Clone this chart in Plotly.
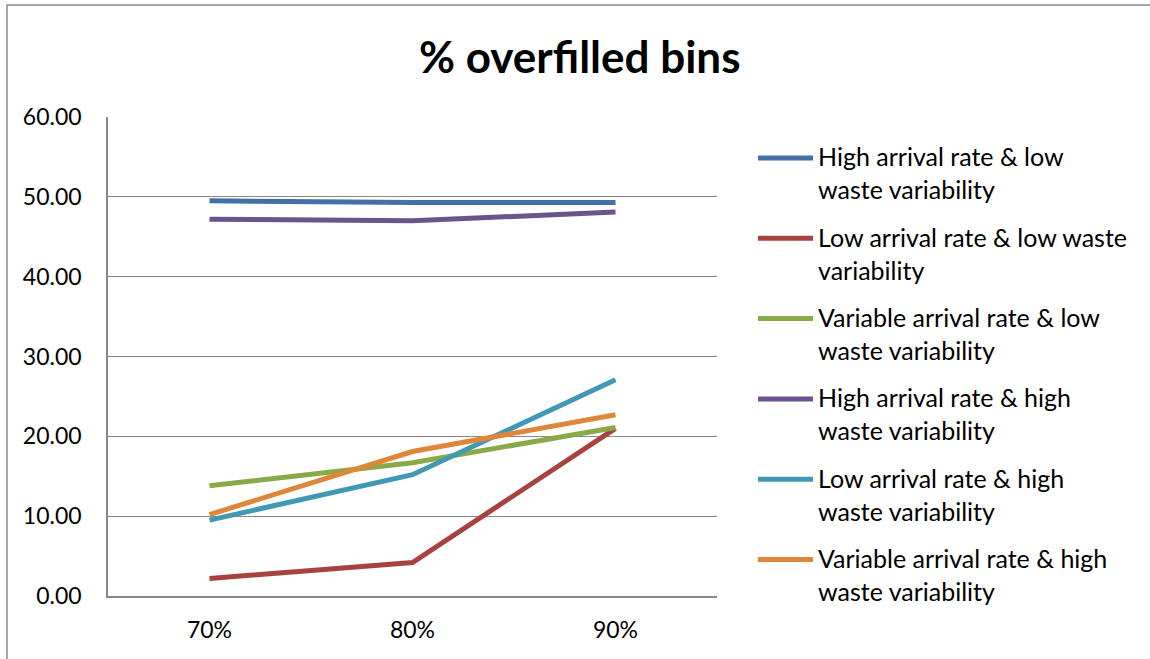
import plotly.graph_objects as go

# Fill-level thresholds on the x axis
thresholds = ["70%", "80%", "90%"]

# Percentage of overfilled bins per scenario
high_arrival_low_var = [49.5, 49.3, 49.3]
low_arrival_low_var = [2.2, 4.2, 21.0]
variable_arrival_low_var = [13.8, 16.7, 21.1]
high_arrival_high_var = [47.2, 47.0, 48.1]
low_arrival_high_var = [9.5, 15.2, 27.1]
variable_arrival_high_var = [10.2, 18.1, 22.7]

series_values = [
    high_arrival_low_var,
    low_arrival_low_var,
    variable_arrival_low_var,
    high_arrival_high_var,
    low_arrival_high_var,
    variable_arrival_high_var,
]
series_names = [
    "High arrival rate & low waste variability",
    "Low arrival rate & low waste variability",
    "Variable arrival rate & low waste variability",
    "High arrival rate & high waste variability",
    "Low arrival rate & high waste variability",
    "Variable arrival rate & high waste variability",
]
# Two-line legend labels
legend_labels = [
    "High arrival rate & low<br>waste variability",
    "Low arrival rate & low waste<br>variability",
    "Variable arrival rate & low<br>waste variability",
    "High arrival rate & high<br>waste variability",
    "Low arrival rate & high<br>waste variability",
    "Variable arrival rate & high<br>waste variability",
]
series_colors = ["#4470A8", "#A8423F", "#88AA48", "#6C528E", "#4098B3", "#E08638"]

W, H = 1150, 659
ML, MR, MT, MB = 108, W - 717, 117, H - 596
PW, PH = W - ML - MR, H - MT - MB

def px_x(px):
    return (px - ML) / PW

def px_y(py):
    return (H - MB - py) / PH

FONT = "Lato, 'Open Sans', sans-serif"
GRID = "#888888"

fig = go.Figure()
for name, vals, color in zip(series_names, series_values, series_colors):
    fig.add_trace(go.Scatter(
        x=thresholds, y=vals, mode="lines", name=name,
        line=dict(color=color, width=5),
        showlegend=False,
    ))

# Legend drawn by hand: a short coloured bar plus two lines of text
for i, (label, color) in enumerate(zip(legend_labels, series_colors)):
    yc = 158 + 80.3 * i
    fig.add_shape(type="line", xref="paper", yref="paper",
                  x0=px_x(758), x1=px_x(813), y0=px_y(yc), y1=px_y(yc),
                  line=dict(color=color, width=5))
    fig.add_annotation(xref="paper", yref="paper", x=px_x(816), y=px_y(yc + 15),
                       xanchor="left", yanchor="middle", align="left",
                       showarrow=False, text=label,
                       font=dict(family=FONT, size=25, color="#000000"))

# Chart title
fig.add_annotation(xref="paper", yref="paper", x=px_x(580), y=px_y(56),
                   xanchor="center", yanchor="middle", showarrow=False,
                   text="<b>% overfilled bins</b>",
                   font=dict(family=FONT, size=44, color="#000000"))

# Outer chart frame
fig.add_shape(type="rect", xref="paper", yref="paper",
              x0=px_x(7), x1=px_x(1160), y0=px_y(670), y1=px_y(5),
              line=dict(color="#8C8C8C", width=1.5), layer="below")

fig.update_layout(
    width=W, height=H,
    margin=dict(l=ML, r=MR, t=MT, b=MB),
    paper_bgcolor="white", plot_bgcolor="white",
    font=dict(family=FONT, size=23, color="#000000"),
    showlegend=False,
)
fig.update_xaxes(
    type="category", range=[-0.5, 2.5],
    showgrid=False, showline=True, linecolor=GRID, linewidth=1.5,
    ticks="", ticklabelstandoff=13,
    tickfont=dict(family=FONT, size=23),
    zeroline=False,
)
fig.update_yaxes(
    range=[0, 60], dtick=10, tickformat=".2f",
    showgrid=True, gridcolor=GRID, gridwidth=1.2,
    showline=True, linecolor=GRID, linewidth=1.5,
    ticks="", ticklabelstandoff=20,
    tickfont=dict(family=FONT, size=23),
    zeroline=False,
)

fig.write_html("out.html")
